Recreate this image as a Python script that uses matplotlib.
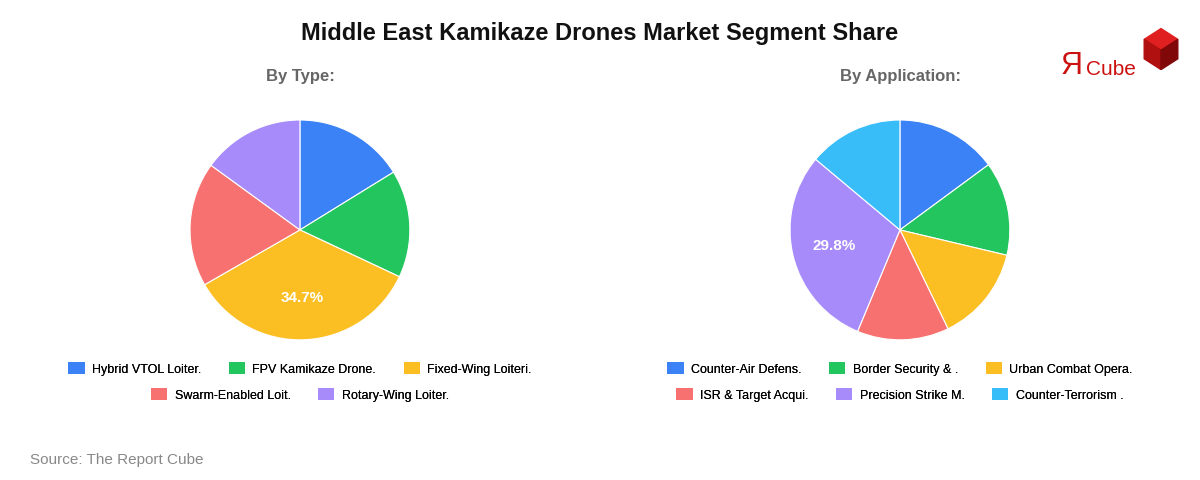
import matplotlib
matplotlib.use("Agg")
import matplotlib.pyplot as plt
from matplotlib.patches import Patch, Polygon
import numpy as np

type_labels = ["Hybrid VTOL Loiter.", "FPV Kamikaze Drone.", "Fixed-Wing Loiteri.", "Swarm-Enabled Loit.", "Rotary-Wing Loiter."]
type_values = [16.2, 15.8, 34.7, 18.3, 15.0]
type_colors = ["#3b82f6", "#22c55e", "#fbbf24", "#f87171", "#a78bfa"]

app_labels = ["Counter-Air Defens.", "Border Security & .", "Urban Combat Opera.", "ISR & Target Acqui.", "Precision Strike M.", "Counter-Terrorism ."]
app_values = [14.9, 13.8, 14.1, 13.5, 29.8, 13.9]
app_colors = ["#3b82f6", "#22c55e", "#fbbf24", "#f87171", "#a78bfa", "#38bdf8"]

plt.rcParams['font.family'] = ['Liberation Sans', 'DejaVu Sans']
fig = plt.figure(figsize=(12, 4.8), dpi=100)
fig.text(0.5, 0.93, "Middle East Kamikaze Drones Market Segment Share", ha="center", va="center",
         fontsize=17, fontweight="bold", color="#111111")
fig.text(0.025, 0.042, "Source: The Report Cube", fontsize=11, color="#888888", va="center")
fig.text(0.884, 0.862, "Я", fontsize=22, color="#cc1111", va="center", ha="left")
fig.text(0.905, 0.855, "Cube", fontsize=15, color="#cc1111", va="center", ha="left")
# logo cube
lax = fig.add_axes([0.950, 0.855, 0.035, 0.09])
lax.set_xlim(0, 1); lax.set_ylim(0, 1); lax.axis("off")
lax.add_patch(Polygon([[0.1, 0.7], [0.5, 0.95], [0.9, 0.7], [0.5, 0.45]], color="#e02020"))
lax.add_patch(Polygon([[0.1, 0.7], [0.5, 0.45], [0.5, 0.0], [0.1, 0.25]], color="#b01010"))
lax.add_patch(Polygon([[0.5, 0.45], [0.9, 0.7], [0.9, 0.25], [0.5, 0.0]], color="#800808"))

def draw(cx, vals, cols, title, labels, rows):
    ax = fig.add_axes([cx - 0.0917, 0.292, 0.1833, 0.458])
    wedges, texts = ax.pie(vals, colors=cols, startangle=90, counterclock=False,
                           wedgeprops=dict(edgecolor="white", linewidth=0.8))
    ax.set_xlim(-1, 1); ax.set_ylim(-1, 1)
    ax.set_aspect("equal")
    imax = vals.index(max(vals))
    w = wedges[imax]
    ang = np.deg2rad((w.theta1 + w.theta2) / 2)
    ax.text(0.62*np.cos(ang), 0.62*np.sin(ang), f"{vals[imax]}%", ha="center", va="center",
            color="white", fontsize=11, fontweight="bold")
    fig.text(cx, 0.84, title, ha="center", va="center", fontsize=12, fontweight="bold", color="#666666")
    ys = [0.231, 0.177]
    for (a, b), y in zip(rows, ys):
        handles = [Patch(facecolor=c, edgecolor="none") for c in cols[a:b]]
        leg = fig.legend(handles, labels[a:b], loc="center", bbox_to_anchor=(cx, y), ncol=b - a,
                         frameon=False, fontsize=9, handlelength=1.3, handleheight=1.1,
                         columnspacing=2.2, handletextpad=0.6)
        fig.add_artist(leg)

draw(0.25, type_values, type_colors, "By Type:", type_labels, [(0, 3), (3, 5)])
draw(0.75, app_values, app_colors, "By Application:", app_labels, [(0, 3), (3, 6)])

fig.savefig("out.png", dpi=100, facecolor="white")
